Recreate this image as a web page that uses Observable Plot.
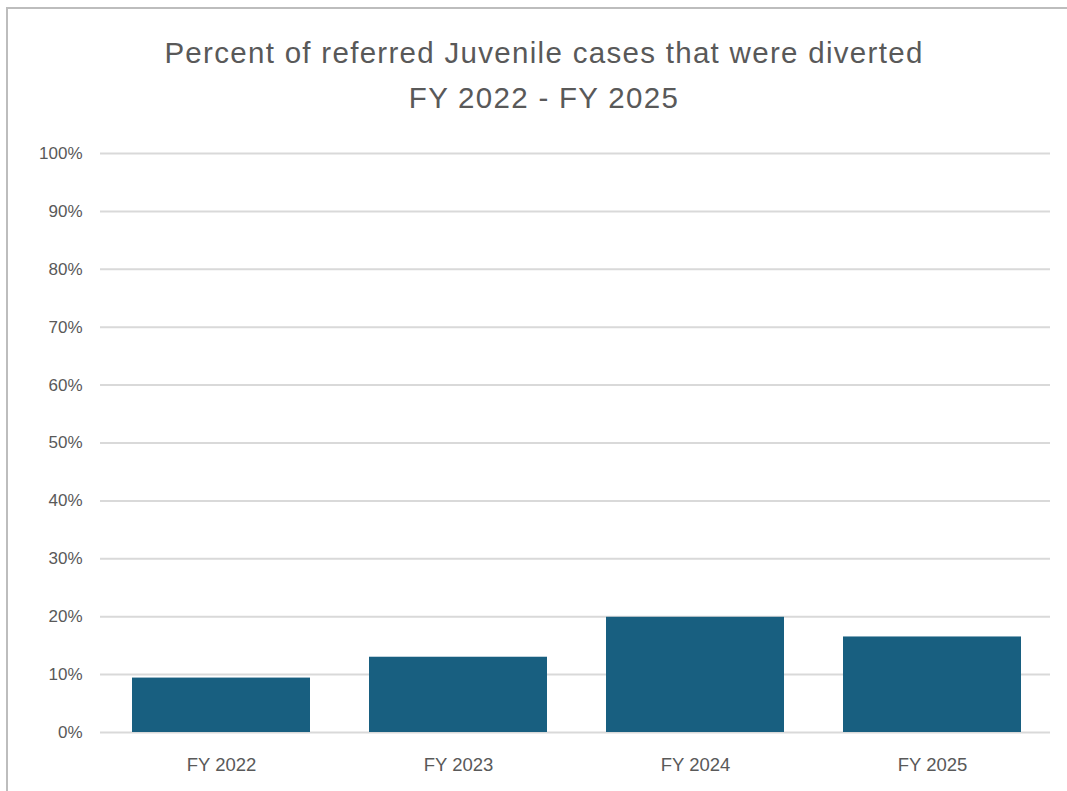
<!DOCTYPE html>
<html>
<head>
<meta charset="utf-8">
<script src="https://cdn.jsdelivr.net/npm/d3@7"></script>
<script src="https://cdn.jsdelivr.net/npm/@observablehq/plot@0.6"></script>
<style>
  html, body { margin: 0; padding: 0; background: #fff; overflow: hidden; }
  #frame { position: absolute; left: 6px; top: 7px; width: 1061px; height: 784px; border-left: 2px solid #bdbdbd; border-top: 2px solid #bdbdbd; box-sizing: border-box; }
  #title { position: absolute; left: 0; top: 30px; width: 1088px; text-align: center; font-family: "Liberation Sans", Arial, sans-serif; font-size: 29.5px; letter-spacing: 1.3px; line-height: 45px; color: #595959; }
  #chart { position: absolute; left: 0; top: 130px; }
</style>
</head>
<body>
<div id="frame"></div>
<div id="title">Percent of referred Juvenile cases that were diverted<br>FY 2022 - FY 2025</div>
<div id="chart"></div>
<script>
const categories = ["FY 2022", "FY 2023", "FY 2024", "FY 2025"];
const values = [0.094, 0.130, 0.199, 0.165];
const yTicks = [0, 0.1, 0.2, 0.3, 0.4, 0.5, 0.6, 0.7, 0.8, 0.9, 1.0];

const data = categories.map((c, i) => ({category: c, value: values[i]}));

const plot = Plot.plot({
  width: 1067,
  height: 661,
  marginTop: 23,
  marginBottom: 59,
  marginLeft: 102,
  marginRight: 17,
  style: { fontFamily: "'Liberation Sans', Arial, sans-serif", fontSize: "17px", color: "#595959", background: "transparent" },
  x: { domain: categories, paddingInner: 0.25, paddingOuter: 0.125, label: null },
  y: { domain: [0, 1], ticks: yTicks, tickFormat: d => Math.round(d * 100) + "%", label: null },
  marks: [
    Plot.gridY(yTicks, { stroke: "#d9d9d9", strokeOpacity: 1, strokeWidth: 2, insetLeft: -2 }),
    Plot.barY(data, { x: "category", y: "value", fill: "#185f80" }),
    Plot.axisY(yTicks, { tickSize: 0, tickPadding: 20, tickFormat: d => Math.round(d * 100) + "%", label: null, fontSize: 17 }),
    Plot.axisX(categories, { tickSize: 0, tickPadding: 25, label: null, fontSize: 18.5 })
  ]
});
document.getElementById("chart").appendChild(plot);
</script>
</body>
</html>
